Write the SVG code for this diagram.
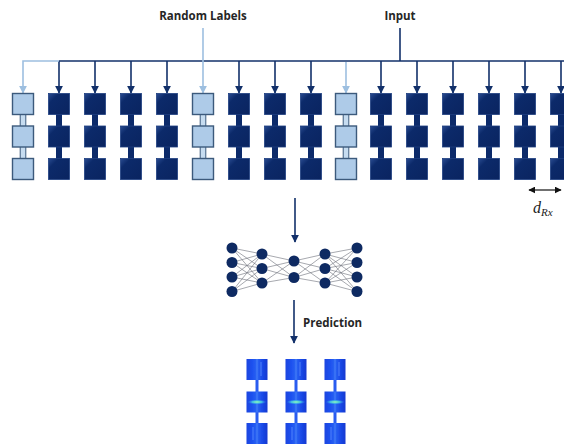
<svg xmlns="http://www.w3.org/2000/svg" xmlns:xlink="http://www.w3.org/1999/xlink" width="564" height="447" viewBox="0 0 564 447">
  <style>
    .lbl { font-family: "Open Sans", "Liberation Sans", sans-serif; font-weight: bold; font-size: 11.5px; fill: #262626; }
    .dk { stroke: #12306a; stroke-width: 1.6; fill: none; }
    .lt { stroke: #9dbfe0; stroke-width: 1.6; fill: none; }
    .edge { stroke: #6b6f78; stroke-width: 0.6; }
    .nd { fill: #0e2a62; }
  </style>
  <defs>
    <marker id="ahDk" viewBox="0 0 10 10" refX="9" refY="5" markerWidth="8" markerHeight="8" orient="auto" markerUnits="userSpaceOnUse">
      <path d="M0,0 L10,5 L0,10 z" fill="#12306a"/>
    </marker>
    <marker id="ahLt" viewBox="0 0 10 10" refX="9" refY="5" markerWidth="8" markerHeight="8" orient="auto" markerUnits="userSpaceOnUse">
      <path d="M0,0 L10,5 L0,10 z" fill="#9dbfe0"/>
    </marker>
    <marker id="ahBk" viewBox="0 0 10 10" refX="9" refY="5" markerWidth="7" markerHeight="7" orient="auto-start-reverse" markerUnits="userSpaceOnUse">
      <path d="M0,0 L10,5 L0,10 z" fill="#111"/>
    </marker>
    <linearGradient id="dkFill" x1="0" y1="0" x2="1" y2="1">
      <stop offset="0" stop-color="#2a4c92"/>
      <stop offset="0.25" stop-color="#0c2a6a"/>
      <stop offset="1" stop-color="#0a2460"/>
    </linearGradient>
    <linearGradient id="predFill" x1="0" y1="0" x2="1" y2="0">
      <stop offset="0" stop-color="#1a44e0"/>
      <stop offset="0.3" stop-color="#1e52f0"/>
      <stop offset="0.47" stop-color="#2a62f2"/>
      <stop offset="0.5" stop-color="#6aa8ff"/>
      <stop offset="0.53" stop-color="#2a62f2"/>
      <stop offset="0.75" stop-color="#1a4ae8"/>
      <stop offset="1" stop-color="#1238d0"/>
    </linearGradient>
    <radialGradient id="streak" cx="0.5" cy="0.5" r="0.5">
      <stop offset="0" stop-color="#9dffb0"/>
      <stop offset="0.5" stop-color="#45d8e0" stop-opacity="0.8"/>
      <stop offset="1" stop-color="#2a62f2" stop-opacity="0"/>
    </radialGradient>
    <filter id="soft" x="-20%" y="-20%" width="140%" height="140%">
      <feGaussianBlur stdDeviation="0.6"/>
    </filter>
    <!-- dark antenna column: three blocks joined by a bar -->
    <g id="colDark">
      <rect x="-3" y="104" width="6" height="66" fill="#0c2a6a"/>
      <rect x="-10.5" y="93.5" width="21" height="21" fill="url(#dkFill)" stroke="#1e3f80" stroke-width="0.8"/>
      <rect x="-10.5" y="126" width="21" height="21" fill="url(#dkFill)" stroke="#1e3f80" stroke-width="0.8"/>
      <rect x="-10.5" y="158.5" width="21" height="21" fill="url(#dkFill)" stroke="#1e3f80" stroke-width="0.8"/>
    </g>
    <!-- light column: label blocks -->
    <g id="colLight">
      <rect x="-2.8" y="104" width="5.6" height="66" fill="#c6dcf0" stroke="#3c5a7c" stroke-width="1"/>
      <rect x="-10.5" y="93.5" width="21" height="21" fill="#aecbe8" stroke="#3c5a7c" stroke-width="1.4"/>
      <rect x="-10.5" y="126" width="21" height="21" fill="#aecbe8" stroke="#3c5a7c" stroke-width="1.4"/>
      <rect x="-10.5" y="158.5" width="21" height="21" fill="#aecbe8" stroke="#3c5a7c" stroke-width="1.4"/>
    </g>
    <!-- predicted field column -->
    <g id="colPred" filter="url(#soft)">
      <rect x="-1.5" y="370" width="3" height="62" fill="#2a5cf0"/>
      <rect x="-10.5" y="359" width="21" height="21" fill="url(#predFill)"/>
      <rect x="-10.5" y="391.5" width="21" height="21" fill="url(#predFill)"/>
      <ellipse cx="0" cy="402" rx="10" ry="2.6" fill="url(#streak)"/>
      <rect x="-10.5" y="423" width="21" height="21" fill="url(#predFill)"/>
      <line x1="-4" y1="427" x2="-4" y2="440" stroke="#5a90ff" stroke-width="0.8"/>
      <line x1="4" y1="362" x2="4" y2="376" stroke="#5a90ff" stroke-width="0.8"/>
    </g>
  </defs>

  <rect width="564" height="447" fill="#ffffff"/>

  <g id="connectors">
    <!-- input bus -->
    <line class="dk" x1="400" y1="28" x2="400" y2="61"/>
    <line class="dk" x1="59" y1="61" x2="564" y2="61"/>
    <g class="dk" marker-end="url(#ahDk)">
      <line x1="59" y1="61" x2="59" y2="93"/>
      <line x1="95" y1="61" x2="95" y2="93"/>
      <line x1="131" y1="61" x2="131" y2="93"/>
      <line x1="167" y1="61" x2="167" y2="93"/>
      <line x1="239" y1="61" x2="239" y2="93"/>
      <line x1="275" y1="61" x2="275" y2="93"/>
      <line x1="311" y1="61" x2="311" y2="93"/>
      <line x1="381" y1="61" x2="381" y2="93"/>
      <line x1="417" y1="61" x2="417" y2="93"/>
      <line x1="453" y1="61" x2="453" y2="93"/>
      <line x1="489" y1="61" x2="489" y2="93"/>
      <line x1="525" y1="61" x2="525" y2="93"/>
      <line x1="561" y1="61" x2="561" y2="93"/>
    </g>
    <!-- random label feeds -->
    <path class="lt" d="M59,61 H23 V93" marker-end="url(#ahLt)"/>
    <line class="lt" x1="203" y1="28" x2="203" y2="93" marker-end="url(#ahLt)"/>
    <line class="lt" x1="346" y1="62" x2="346" y2="93" marker-end="url(#ahLt)"/>
    <!-- element spacing -->
    <line x1="529" y1="190" x2="561" y2="190" stroke="#111" stroke-width="1.2" marker-start="url(#ahBk)" marker-end="url(#ahBk)"/>
    <!-- into and out of network -->
    <line class="dk" x1="295" y1="198" x2="295" y2="242" marker-end="url(#ahDk)"/>
    <line class="dk" x1="294" y1="300" x2="294" y2="343" marker-end="url(#ahDk)"/>
  </g>

  <g id="label-random">
    <text class="lbl" x="203" y="20" text-anchor="middle">Random Labels</text>
  </g>
  <g id="label-input">
    <text class="lbl" x="400" y="20" text-anchor="middle">Input</text>
  </g>

  <g id="array">
    <use xlink:href="#colLight" x="23"/>
    <use xlink:href="#colDark" x="59"/>
    <use xlink:href="#colDark" x="95"/>
    <use xlink:href="#colDark" x="131"/>
    <use xlink:href="#colDark" x="167"/>
    <use xlink:href="#colLight" x="203"/>
    <use xlink:href="#colDark" x="239"/>
    <use xlink:href="#colDark" x="275"/>
    <use xlink:href="#colDark" x="311"/>
    <use xlink:href="#colLight" x="346"/>
    <use xlink:href="#colDark" x="381"/>
    <use xlink:href="#colDark" x="417"/>
    <use xlink:href="#colDark" x="453"/>
    <use xlink:href="#colDark" x="489"/>
    <use xlink:href="#colDark" x="525"/>
    <use xlink:href="#colDark" x="561"/>
  </g>

  <g id="label-drx">
    <text x="533" y="213" font-family="Liberation Serif, serif" font-style="italic" font-size="16" fill="#222">d<tspan font-size="11" dy="3">Rx</tspan></text>
  </g>

  <g id="network">
    <g class="edge">
      <!-- layer 1 to 2 -->
      <path d="M232,248 L262,254 M232,248 L262,268.5 M232,248 L262,283 M232,262.5 L262,254 M232,262.5 L262,268.5 M232,262.5 L262,283 M232,277 L262,254 M232,277 L262,268.5 M232,277 L262,283 M232,291.5 L262,254 M232,291.5 L262,268.5 M232,291.5 L262,283"/>
      <!-- layer 2 to 3 -->
      <path d="M262,254 L294,261 M262,254 L294,277.5 M262,268.5 L294,261 M262,268.5 L294,277.5 M262,283 L294,261 M262,283 L294,277.5"/>
      <!-- layer 3 to 4 -->
      <path d="M294,261 L325,254 M294,261 L325,268.5 M294,261 L325,283 M294,277.5 L325,254 M294,277.5 L325,268.5 M294,277.5 L325,283"/>
      <!-- layer 4 to 5 -->
      <path d="M325,254 L357,248 M325,254 L357,262.5 M325,254 L357,277 M325,254 L357,291.5 M325,268.5 L357,248 M325,268.5 L357,262.5 M325,268.5 L357,277 M325,268.5 L357,291.5 M325,283 L357,248 M325,283 L357,262.5 M325,283 L357,277 M325,283 L357,291.5"/>
    </g>
    <g class="nd">
      <circle cx="232" cy="248" r="5.5"/>
      <circle cx="232" cy="262.5" r="5.5"/>
      <circle cx="232" cy="277" r="5.5"/>
      <circle cx="232" cy="291.5" r="5.5"/>
      <circle cx="262" cy="254" r="5.5"/>
      <circle cx="262" cy="268.5" r="5.5"/>
      <circle cx="262" cy="283" r="5.5"/>
      <circle cx="294" cy="261" r="5.5"/>
      <circle cx="294" cy="277.5" r="5.5"/>
      <circle cx="325" cy="254" r="5.5"/>
      <circle cx="325" cy="268.5" r="5.5"/>
      <circle cx="325" cy="283" r="5.5"/>
      <circle cx="357" cy="248" r="5.5"/>
      <circle cx="357" cy="262.5" r="5.5"/>
      <circle cx="357" cy="277" r="5.5"/>
      <circle cx="357" cy="291.5" r="5.5"/>
    </g>
  </g>

  <g id="label-prediction">
    <text class="lbl" x="303" y="327">Prediction</text>
  </g>

  <g id="prediction">
    <use xlink:href="#colPred" x="257"/>
    <use xlink:href="#colPred" x="296"/>
    <use xlink:href="#colPred" x="335"/>
  </g>
</svg>
